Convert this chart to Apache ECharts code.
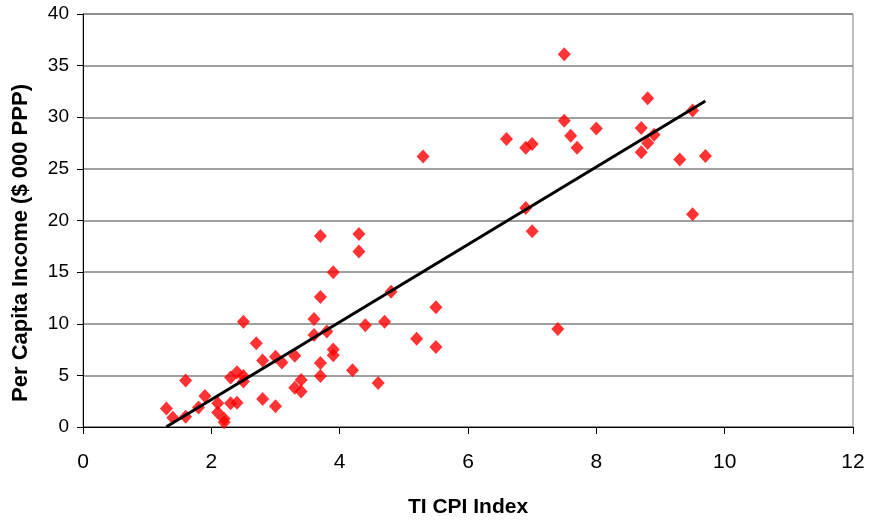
<!DOCTYPE html>
<html>
<head>
<meta charset="utf-8">
<script src="https://cdn.jsdelivr.net/npm/echarts@6/dist/echarts.min.js"></script>
<style>
html,body{margin:0;padding:0;background:#fff;}
#chart{width:872px;height:523px;}
</style>
</head>
<body>
<div id="chart"></div>
<script>
// TI CPI Index (x) vs Per Capita Income ($ 000 PPP) (y)
const cpi = [1.3,1.4,1.6,1.6,1.8,1.9,2.1,2.1,2.2,2.2,
  2.3,2.3,2.4,2.4,2.5,2.5,2.5,2.7,2.8,2.8,
  3.0,3.0,3.1,3.3,3.3,3.4,3.4,3.6,3.6,3.7,
  3.7,3.7,3.7,3.8,3.9,3.9,3.9,4.2,4.3,4.3,
  4.4,4.6,4.7,4.8,5.2,5.3,5.5,5.5,6.6,6.9,
  6.9,7.0,7.0,7.4,7.5,7.5,7.6,7.7,8.0,8.7,
  8.7,8.8,8.8,8.9,9.3,9.5,9.5,9.7];
const income = [1.8,0.9,4.5,1.0,1.9,3.0,2.3,1.4,0.8,0.45,
  4.8,2.3,5.3,2.35,4.95,4.4,10.2,8.1,6.45,2.7,
  6.8,2.0,6.25,6.9,3.8,4.55,3.45,10.45,8.9,12.6,
  18.5,6.2,4.95,9.25,15.0,7.5,6.95,5.5,18.7,17.0,
  9.85,4.25,10.2,13.1,8.55,26.2,11.6,7.75,27.9,27.05,
  21.2,27.4,18.95,9.5,36.1,29.65,28.2,27.05,28.9,28.95,
  26.6,31.85,27.5,28.3,25.9,30.65,20.6,26.25];
const xTicks = [0,2,4,6,8,10,12];
const yTicks = [0,5,10,15,20,25,30,35,40];
const xTitle = 'TI CPI Index';
const yTitle = 'Per Capita Income ($ 000 PPP)';

const points = cpi.map((x,i)=>[x, income[i]]);
// least-squares linear trend through the data
const n = cpi.length;
const mx = cpi.reduce((a,b)=>a+b,0)/n;
const my = income.reduce((a,b)=>a+b,0)/n;
let sxy=0, sxx=0;
for (let i=0;i<n;i++){ sxy += (cpi[i]-mx)*(income[i]-my); sxx += (cpi[i]-mx)*(cpi[i]-mx); }
const slope = sxy/sxx, icpt = my - slope*mx;
const xs = cpi.slice().sort((a,b)=>a-b);
const trend = [xs[0], xs[xs.length-1]].map(x=>[x, slope*x+icpt]);

const FONT = "'Liberation Sans', Arial, sans-serif";
const chart = echarts.init(document.getElementById('chart'), null, {renderer:'canvas'});
chart.setOption({
  animation:false,
  backgroundColor:'#ffffff',
  grid:{left:83, right:19, top:14, bottom:96, show:true, borderColor:'#808080', borderWidth:1, backgroundColor:'transparent'},
  xAxis:{
    type:'value', min:xTicks[0], max:xTicks[xTicks.length-1], interval:2,
    axisLine:{show:true, onZero:false, lineStyle:{color:'#000', width:1}},
    axisTick:{show:true, inside:false, length:7, lineStyle:{color:'#000'}},
    axisLabel:{color:'#000', fontSize:21, fontFamily:FONT, margin:25},
    splitLine:{show:false}
  },
  yAxis:{
    type:'value', min:yTicks[0], max:yTicks[yTicks.length-1], interval:5,
    axisLine:{show:true, onZero:false, lineStyle:{color:'#000', width:1}},
    axisTick:{show:true, inside:false, length:6, lineStyle:{color:'#000'}},
    axisLabel:{color:'#000', fontSize:19, fontFamily:FONT, margin:14},
    splitLine:{show:true, lineStyle:{color:'#808080', width:1.5}}
  },
  graphic:[
    {type:'text', x:468, y:507, style:{text:xTitle, font:"bold 21px "+FONT, fill:'#000', align:'center', verticalAlign:'middle'}, z:10},
    {type:'text', x:21, y:243, rotation:Math.PI/2, style:{text:yTitle, font:"bold 22px "+FONT, fill:'#000', align:'center', verticalAlign:'middle'}, z:10}
  ],
  series:[
    {type:'scatter', data:points, symbol:'diamond', symbolSize:[13,14], itemStyle:{color:'#ff0000'}, z:3},
    {type:'line', data:trend, symbol:'none', lineStyle:{color:'#000', width:3}, z:4}
  ]
});
</script>
</body>
</html>
